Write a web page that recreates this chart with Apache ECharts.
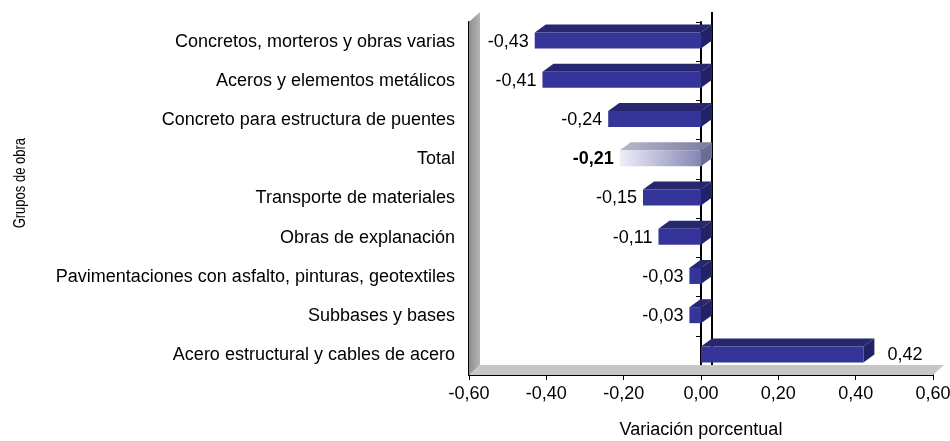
<!DOCTYPE html>
<html>
<head>
<meta charset="utf-8">
<script src="https://cdn.jsdelivr.net/npm/echarts@6/dist/echarts.min.js"></script>
<style>
  html, body { margin: 0; padding: 0; background: #fff; }
  #chart { width: 950px; height: 441px; }
</style>
</head>
<body>
<div id="chart"></div>
<script>
// grupos de obra, de arriba hacia abajo
var categories = [
  "Concretos, morteros y obras varias",
  "Aceros y elementos metálicos",
  "Concreto para estructura de puentes",
  "Total",
  "Transporte de materiales",
  "Obras de explanación",
  "Pavimentaciones con asfalto, pinturas, geotextiles",
  "Subbases y bases",
  "Acero estructural y cables de acero"
];
var values = [-0.43, -0.41, -0.24, -0.21, -0.15, -0.11, -0.03, -0.03, 0.42];
var totalName = "Total";

var FONT = "Liberation Sans, Arial, sans-serif";
var FS = 18;
var DX = 11, DY = 8; // profundidad del efecto 3D

function fmt(v) {
  if (Math.abs(v) < 1e-9) v = 0;
  return v.toFixed(2).replace(".", ",");
}

var chart = echarts.init(document.getElementById("chart"));

// barras con efecto 3D
function renderBar(params, api) {
  var val = api.value(0);
  var cat = api.value(1);
  var p0 = api.coord([0, cat]);
  var p1 = api.coord([val, cat]);
  var yc = p0[1] - 1;
  var h = 16;
  var xL = Math.min(p0[0], p1[0]);
  var xR = Math.max(p0[0], p1[0]);
  var y0 = yc - h / 2, y1 = yc + h / 2;
  var isTotal = categories[params.dataIndex] === totalName;

  var front = isTotal
    ? new echarts.graphic.LinearGradient(0, 0, 1, 0, [
        { offset: 0, color: "#eeeef8" },
        { offset: 1, color: "#8585b5" }
      ])
    : "#343499";
  var top = isTotal
    ? new echarts.graphic.LinearGradient(0, 0, 1, 0, [
        { offset: 0, color: "#b8b8cc" },
        { offset: 1, color: "#7a7a9c" }
      ])
    : "#27276f";
  var side = isTotal ? "#6c6c94" : "#222266";

  var label = fmt(val);
  var lx, align;
  if (val < 0) { lx = xL - 6; align = "right"; }
  else { lx = xR + DX + 13; align = "left"; }

  return {
    type: "group",
    children: [
      { type: "polygon", shape: { points: [[xL, y0], [xL + DX, y0 - DY], [xR + DX, y0 - DY], [xR, y0]] }, style: { fill: top } },
      { type: "polygon", shape: { points: [[xR, y0], [xR + DX, y0 - DY], [xR + DX, y1 - DY], [xR, y1]] }, style: { fill: side } },
      { type: "rect", shape: { x: xL, y: y0, width: xR - xL, height: h }, style: { fill: front } },
      {
        type: "text",
        style: {
          x: lx, y: yc + 1, text: label, align: align, verticalAlign: "middle",
          fill: "#000", font: (isTotal ? "bold " : "") + FS + "px " + FONT
        }
      }
    ]
  };
}

// paredes grises y linea de cero posterior
function renderWalls(params, api) {
  var cs = params.coordSys;
  var x = cs.x, y = cs.y, w = cs.width, h = cs.height;
  var zx = api.coord([0, 0])[0];
  return {
    type: "group",
    children: [
      { type: "polygon", shape: { points: [[x, y + h], [x, y], [x + DX, y - DY - 2], [x + DX, y + h - DY - 2]] },
        style: { fill: new echarts.graphic.LinearGradient(0, 0, 1, 0, [
          { offset: 0, color: "#8f8f8f" }, { offset: 1, color: "#b4b4b4" }]) } },
      { type: "polygon", shape: { points: [[x, y + h], [x + DX, y + h - DY - 2], [x + w + DX, y + h - DY - 2], [x + w, y + h]] },
        style: { fill: "#c6c6c6" } },
      { type: "line", shape: { x1: zx + DX, y1: y - DY - 2, x2: zx + DX, y2: y + h - DY - 2 },
        style: { stroke: "#000", lineWidth: 2 } }
    ]
  };
}

var barData = values.map(function (v, i) { return [v, categories[i]]; });

var option = {
  animation: false,
  grid: { left: 469, right: 17, top: 22, bottom: 66, outerBoundsMode: "none" },
  textStyle: { fontFamily: FONT },
  xAxis: {
    type: "value",
    min: -0.6,
    max: 0.6,
    interval: 0.2,
    name: "Variación porcentual",
    nameLocation: "middle",
    nameGap: 46,
    nameTextStyle: { color: "#000", fontSize: FS, fontFamily: FONT },
    axisLine: { show: true, onZero: false, lineStyle: { color: "#000", width: 2 } },
    axisTick: { show: true, length: 5, lineStyle: { color: "#000", width: 1 } },
    axisLabel: { color: "#000", fontSize: FS, margin: 10, formatter: fmt },
    splitLine: { show: false }
  },
  yAxis: [
    {
      type: "category",
      data: categories,
      inverse: true,
      axisLine: { show: true, onZero: false, lineStyle: { color: "#000", width: 2 } },
      axisTick: { show: false },
      axisLabel: { color: "#000", fontSize: FS, margin: 14 },
      splitLine: { show: false }
    },
    {
      type: "category",
      data: categories,
      inverse: true,
      position: "left",
      axisLine: { show: true, onZero: true, lineStyle: { color: "#000", width: 2 } },
      axisTick: { show: true, length: 5, lineStyle: { color: "#000" } },
      axisLabel: { show: false },
      splitLine: { show: false }
    }
  ],
  graphic: [
    {
      type: "text",
      left: 12,
      top: 138,
      rotation: Math.PI / 2,
      scaleY: 1.25,
      style: { text: "Grupos de obra", fill: "#000", font: "13px " + FONT }
    }
  ],
  series: [
    {
      type: "custom",
      renderItem: renderWalls,
      data: [[0, categories[0]]],
      encode: { x: 0, y: 1 },
      z: 1,
      silent: true
    },
    {
      type: "custom",
      renderItem: renderBar,
      data: barData,
      encode: { x: 0, y: 1 },
      z: 2
    }
  ]
};

chart.setOption(option);
</script>
</body>
</html>
